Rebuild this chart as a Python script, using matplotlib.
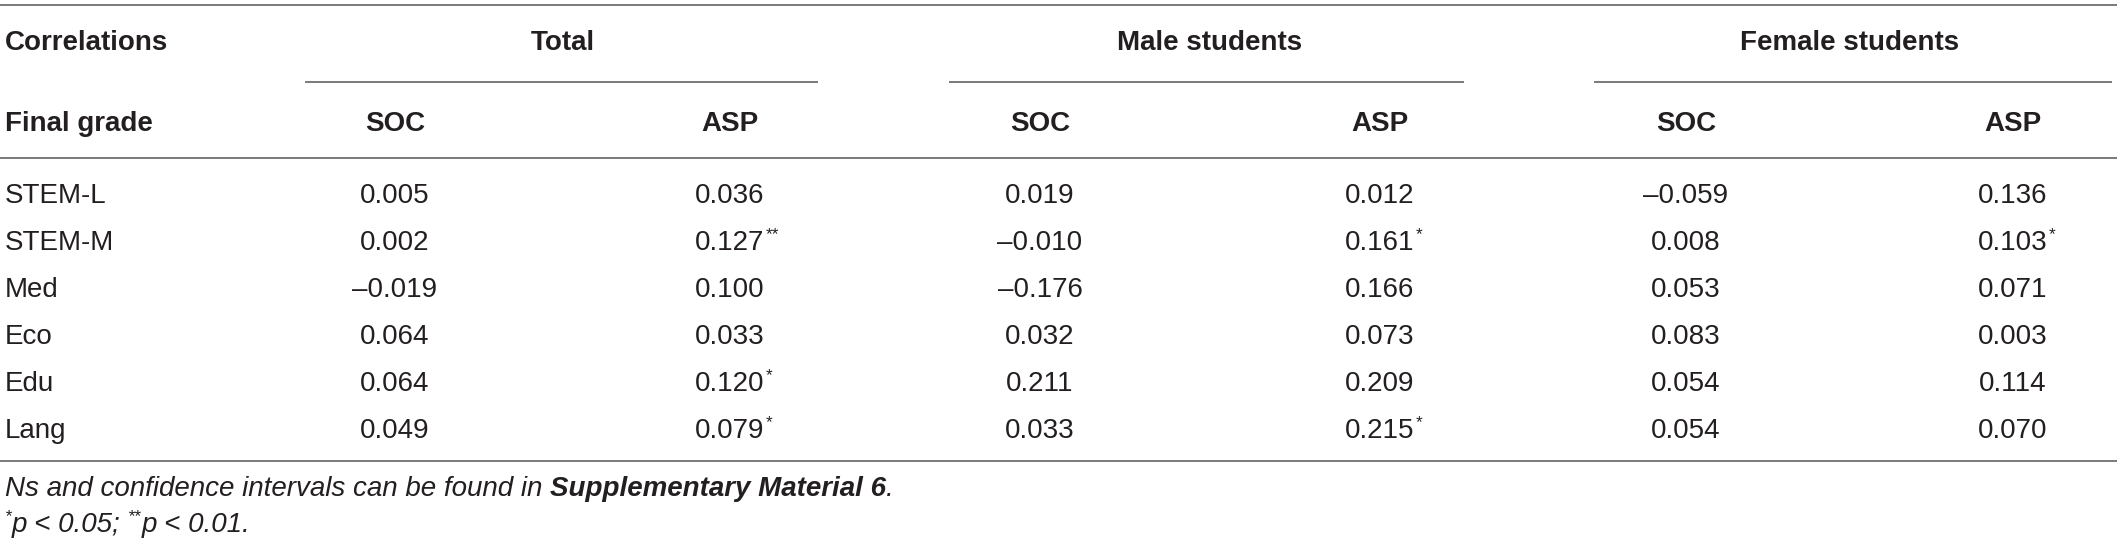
import matplotlib
matplotlib.use("Agg")
import matplotlib.pyplot as plt

# ---- data ----
row_labels = ["STEM-L", "STEM-M", "Med", "Eco", "Edu", "Lang"]
groups = ["Total", "Male students", "Female students"]
sub_cols = ["SOC", "ASP"]
total_soc = ["0.005", "0.002", "\u20130.019", "0.064", "0.064", "0.049"]
total_asp = ["0.036", "0.127**", "0.100", "0.033", "0.120*", "0.079*"]
male_soc = ["0.019", "\u20130.010", "\u20130.176", "0.032", "0.211", "0.033"]
male_asp = ["0.012", "0.161*", "0.166", "0.073", "0.209", "0.215*"]
female_soc = ["\u20130.059", "0.008", "0.053", "0.083", "0.054", "0.054"]
female_asp = ["0.136", "0.103*", "0.071", "0.003", "0.114", "0.070"]
columns = [total_soc, total_asp, male_soc, male_asp, female_soc, female_asp]
header1 = "Correlations"
header2 = "Final grade"
note_pre = "Ns and confidence intervals can be found in "
note_bold = "Supplementary Material 6"
note_post = "."

W, H = 2117, 548
fig = plt.figure(figsize=(W / 100, H / 100), dpi=100)
ax = fig.add_axes([0, 0, 1, 1])
ax.set_xlim(0, W)
ax.set_ylim(H, 0)
ax.axis("off")
fig.canvas.draw()
renderer = fig.canvas.get_renderer()

FONT = "Liberation Sans"
TXT = "#231f20"
LINE = "#7a7a7a"
FS = 20
SUP = 0.62
LW = 1.4

col_x = [395, 730, 1040, 1380, 1686, 2013]
group_x = [(col_x[0] + col_x[1]) / 2, (col_x[2] + col_x[3]) / 2, (col_x[4] + col_x[5]) / 2]
group_lines = [(305, 818), (949, 1464), (1594, 2112)]

y_top = 5
y_h1 = 43
y_sub = 82
y_h2 = 124
y_hl = 158
row_y = [193, 240, 287, 334, 381, 428]
y_bot = 461
y_n1 = 486
y_n2 = 522


def hline(x0, x1, y):
    ax.plot([x0, x1], [y, y], color=LINE, lw=LW, solid_capstyle="butt")


hline(0, W, y_top)
for x0, x1 in group_lines:
    hline(x0, x1, y_sub)
hline(0, W, y_hl)
hline(0, W, y_bot)


def txt(x, y, s, ha="left", va="center", **kw):
    kw.setdefault("fontsize", FS)
    return ax.text(x, y, s, ha=ha, va=va, family=FONT, color=TXT, **kw)


def width(t):
    return t.get_window_extent(renderer).width


def run(x, baseline, pieces):
    """Place text pieces one after another on a baseline."""
    for s, size, style, weight, rise in pieces:
        t = ax.text(x, baseline - rise, s, ha="left", va="baseline", family=FONT, color=TXT,
                    fontsize=size, style=style, fontweight=weight)
        x += width(t)
    return x


txt(5, y_h1, header1, fontweight="bold")
txt(5, y_h2, header2, fontweight="bold")
for g, gx in zip(groups, group_x):
    txt(gx, y_h1, g, ha="center", fontweight="bold")
for i, cx in enumerate(col_x):
    txt(cx, y_h2, sub_cols[i % 2], ha="center", fontweight="bold")

cap = 0.72 * FS * 100 / 72  # cap height in px
for r, (lab, ry) in enumerate(zip(row_labels, row_y)):
    base = ry + cap / 2
    txt(5, base, lab, va="baseline")
    for c, cx in enumerate(col_x):
        val = columns[c][r]
        num = val.rstrip("*")
        stars = val[len(num):]
        t = txt(cx, base, num, ha="center", va="baseline")
        if stars:
            right = cx + width(t) / 2
            txt(right + 1, base - cap * 0.55, stars, va="baseline", fontsize=FS * SUP)

b1 = y_n1 + cap / 2
run(5, b1, [(note_pre, FS, "italic", "normal", 0),
            (note_bold, FS, "italic", "bold", 0),
            (note_post, FS, "italic", "normal", 0)])
b2 = y_n2 + cap / 2
run(5, b2, [("*", FS * SUP, "italic", "normal", cap * 0.55),
            ("p < 0.05; ", FS, "italic", "normal", 0),
            ("**", FS * SUP, "italic", "normal", cap * 0.55),
            ("p < 0.01.", FS, "italic", "normal", 0)])

fig.savefig("out.png", dpi=100, facecolor="white")
